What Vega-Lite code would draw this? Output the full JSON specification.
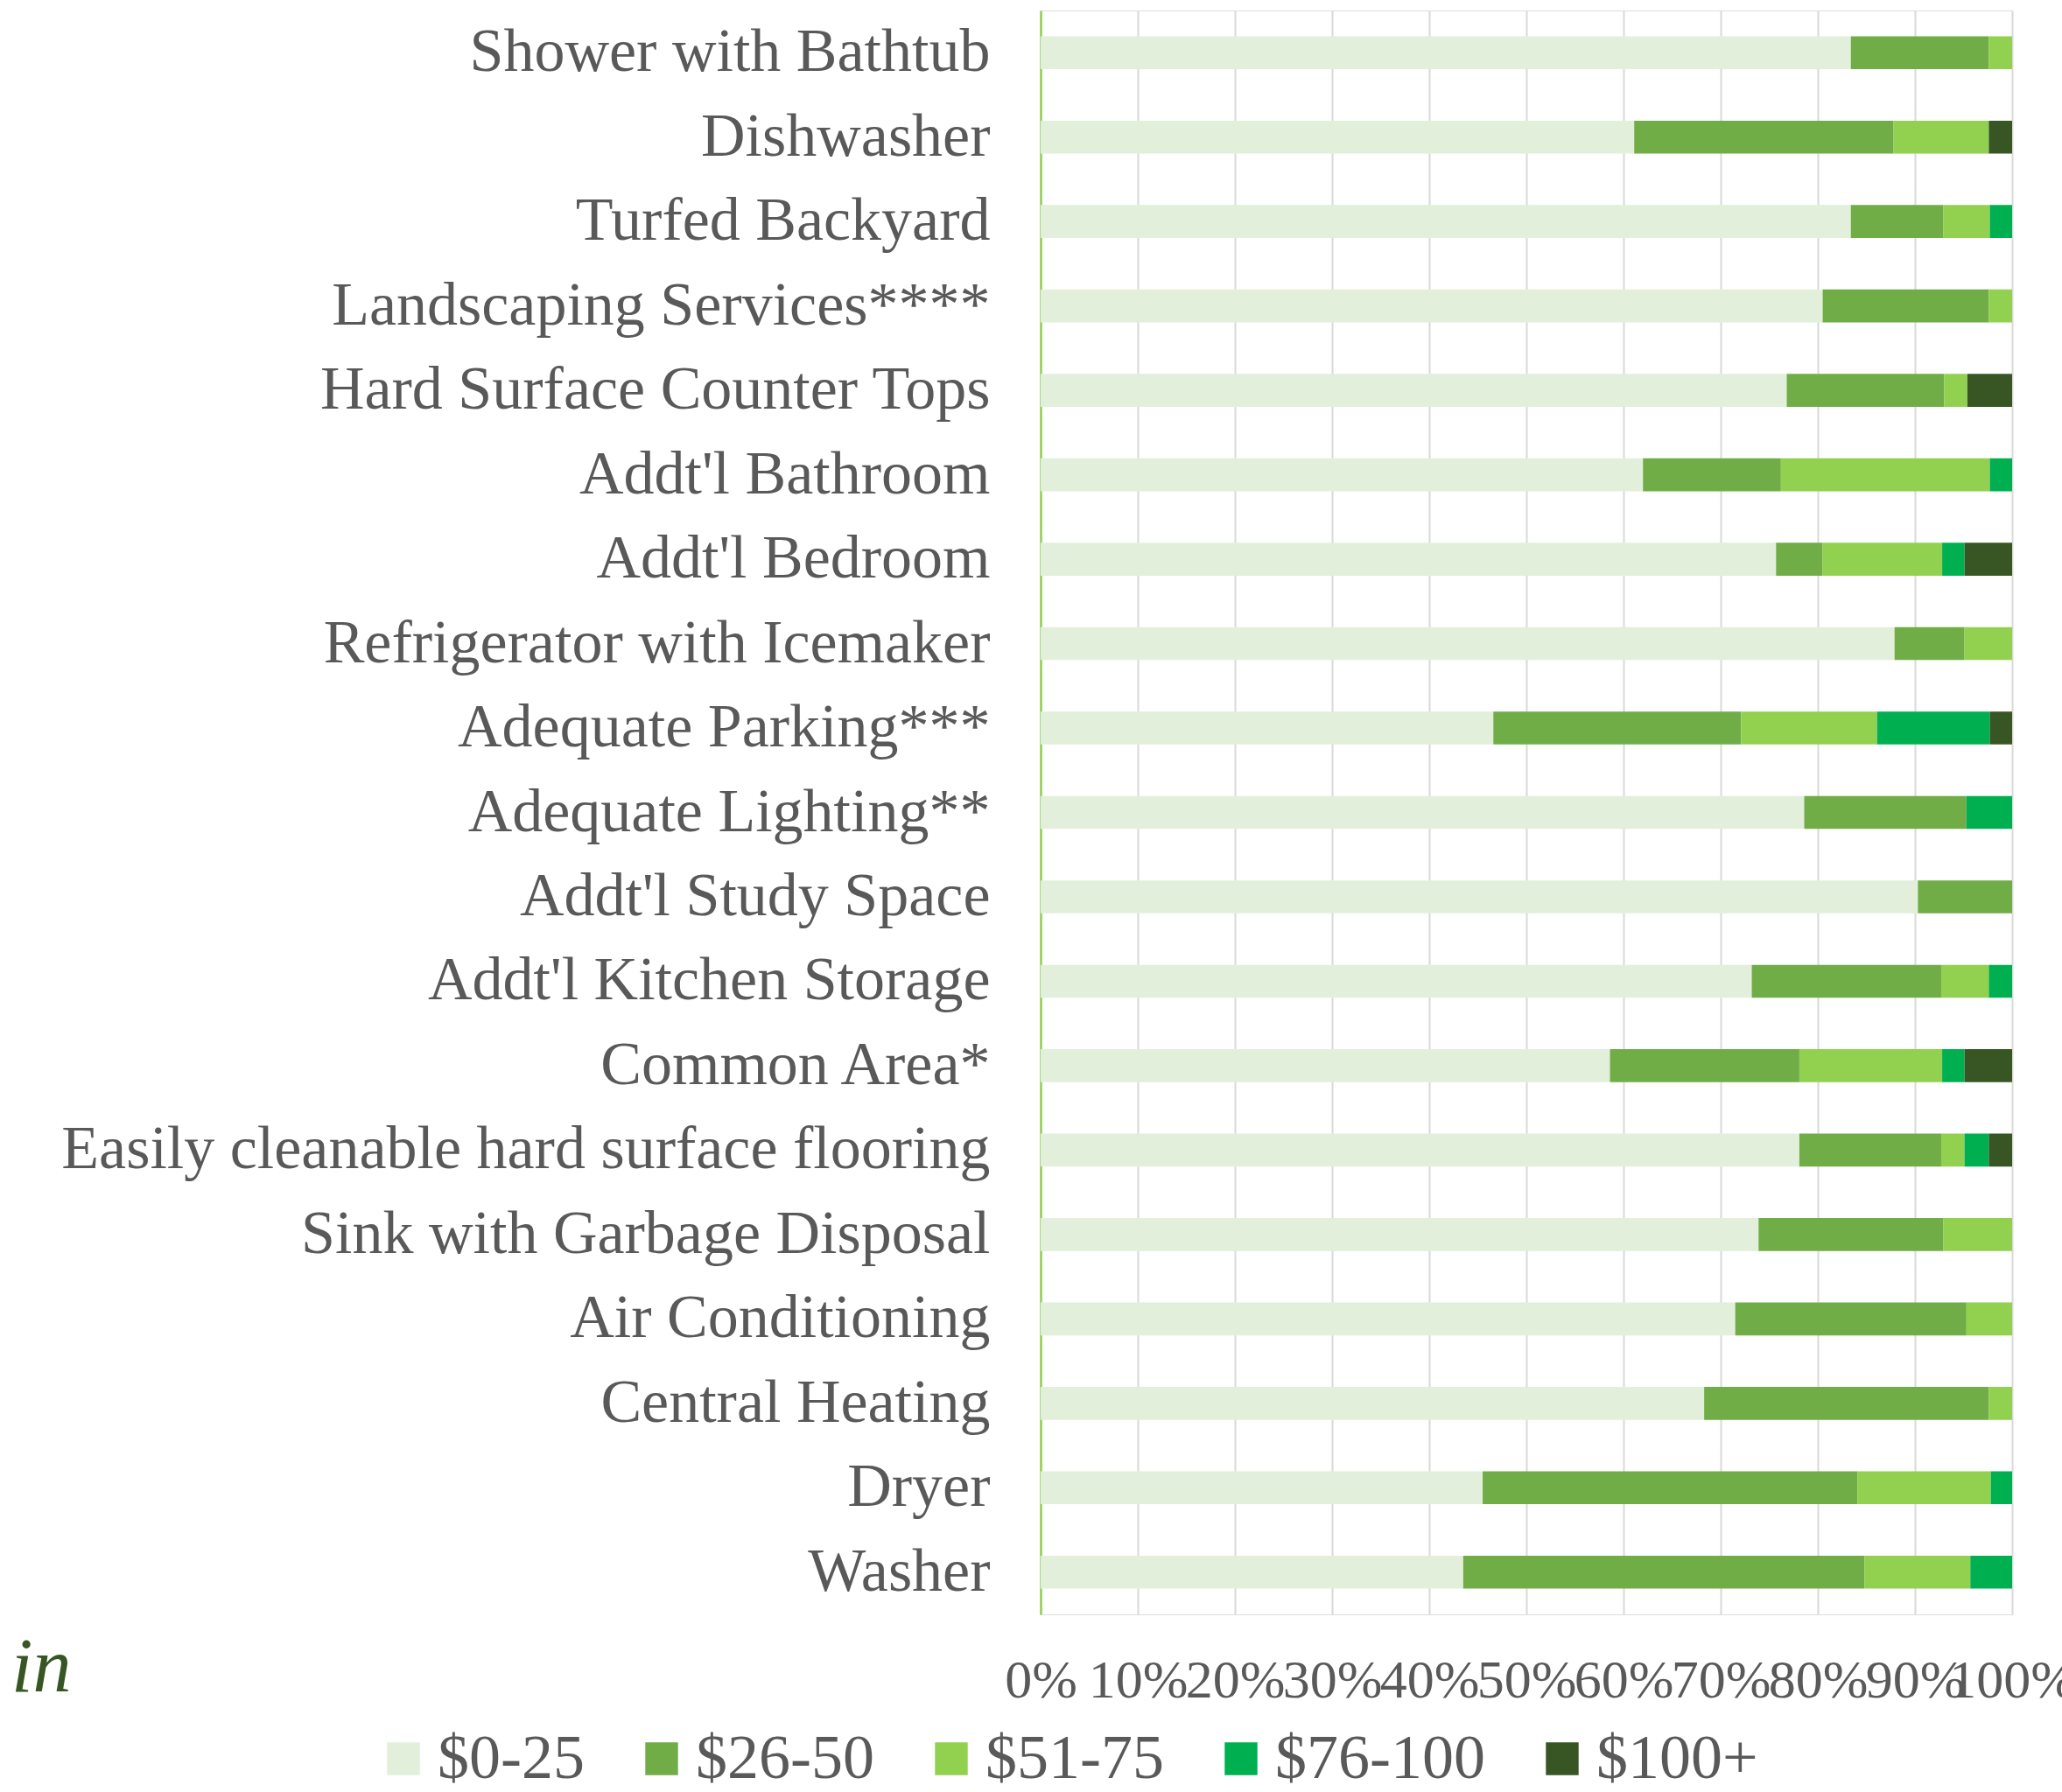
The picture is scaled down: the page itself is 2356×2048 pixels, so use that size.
{
  "$schema": "https://vega.github.io/schema/vega-lite/v6.json",
  "autosize": "none",
  "padding": {"left": 1189, "top": 12, "right": 57, "bottom": 203},
  "width": 1110,
  "height": 1833,
  "background": "white",
  "title": {
    "text": "in",
    "orient": "bottom",
    "anchor": "start",
    "frame": "group",
    "font": "Liberation Serif",
    "fontStyle": "italic",
    "fontWeight": "normal",
    "fontSize": 88,
    "color": "#375623",
    "dx": -1176,
    "offset": -183
  },
  "data": {
    "values": [
      {"item": "Shower with Bathtub", "range": "$0-25", "pct": 83.4},
      {"item": "Shower with Bathtub", "range": "$26-50", "pct": 14.2},
      {"item": "Shower with Bathtub", "range": "$51-75", "pct": 2.4},
      {"item": "Dishwasher", "range": "$0-25", "pct": 61.1},
      {"item": "Dishwasher", "range": "$26-50", "pct": 26.7},
      {"item": "Dishwasher", "range": "$51-75", "pct": 9.8},
      {"item": "Dishwasher", "range": "$100+", "pct": 2.4},
      {"item": "Turfed Backyard", "range": "$0-25", "pct": 83.4},
      {"item": "Turfed Backyard", "range": "$26-50", "pct": 9.5},
      {"item": "Turfed Backyard", "range": "$51-75", "pct": 4.8},
      {"item": "Turfed Backyard", "range": "$76-100", "pct": 2.3},
      {"item": "Landscaping Services****", "range": "$0-25", "pct": 80.5},
      {"item": "Landscaping Services****", "range": "$26-50", "pct": 17.1},
      {"item": "Landscaping Services****", "range": "$51-75", "pct": 2.4},
      {"item": "Hard Surface Counter Tops", "range": "$0-25", "pct": 76.8},
      {"item": "Hard Surface Counter Tops", "range": "$26-50", "pct": 16.2},
      {"item": "Hard Surface Counter Tops", "range": "$51-75", "pct": 2.4},
      {"item": "Hard Surface Counter Tops", "range": "$100+", "pct": 4.6},
      {"item": "Addt'l Bathroom", "range": "$0-25", "pct": 62.0},
      {"item": "Addt'l Bathroom", "range": "$26-50", "pct": 14.2},
      {"item": "Addt'l Bathroom", "range": "$51-75", "pct": 21.5},
      {"item": "Addt'l Bathroom", "range": "$76-100", "pct": 2.3},
      {"item": "Addt'l Bedroom", "range": "$0-25", "pct": 75.7},
      {"item": "Addt'l Bedroom", "range": "$26-50", "pct": 4.8},
      {"item": "Addt'l Bedroom", "range": "$51-75", "pct": 12.3},
      {"item": "Addt'l Bedroom", "range": "$76-100", "pct": 2.3},
      {"item": "Addt'l Bedroom", "range": "$100+", "pct": 4.9},
      {"item": "Refrigerator with Icemaker", "range": "$0-25", "pct": 87.9},
      {"item": "Refrigerator with Icemaker", "range": "$26-50", "pct": 7.2},
      {"item": "Refrigerator with Icemaker", "range": "$51-75", "pct": 4.9},
      {"item": "Adequate Parking***", "range": "$0-25", "pct": 46.6},
      {"item": "Adequate Parking***", "range": "$26-50", "pct": 25.5},
      {"item": "Adequate Parking***", "range": "$51-75", "pct": 14.0},
      {"item": "Adequate Parking***", "range": "$76-100", "pct": 11.6},
      {"item": "Adequate Parking***", "range": "$100+", "pct": 2.3},
      {"item": "Adequate Lighting**", "range": "$0-25", "pct": 78.6},
      {"item": "Adequate Lighting**", "range": "$26-50", "pct": 16.7},
      {"item": "Adequate Lighting**", "range": "$76-100", "pct": 4.7},
      {"item": "Addt'l Study Space", "range": "$0-25", "pct": 90.3},
      {"item": "Addt'l Study Space", "range": "$26-50", "pct": 9.7},
      {"item": "Addt'l Kitchen Storage", "range": "$0-25", "pct": 73.2},
      {"item": "Addt'l Kitchen Storage", "range": "$26-50", "pct": 19.5},
      {"item": "Addt'l Kitchen Storage", "range": "$51-75", "pct": 4.9},
      {"item": "Addt'l Kitchen Storage", "range": "$76-100", "pct": 2.4},
      {"item": "Common Area*", "range": "$0-25", "pct": 58.6},
      {"item": "Common Area*", "range": "$26-50", "pct": 19.5},
      {"item": "Common Area*", "range": "$51-75", "pct": 14.7},
      {"item": "Common Area*", "range": "$76-100", "pct": 2.3},
      {"item": "Common Area*", "range": "$100+", "pct": 4.9},
      {"item": "Easily cleanable hard surface flooring", "range": "$0-25", "pct": 78.1},
      {"item": "Easily cleanable hard surface flooring", "range": "$26-50", "pct": 14.6},
      {"item": "Easily cleanable hard surface flooring", "range": "$51-75", "pct": 2.4},
      {"item": "Easily cleanable hard surface flooring", "range": "$76-100", "pct": 2.5},
      {"item": "Easily cleanable hard surface flooring", "range": "$100+", "pct": 2.4},
      {"item": "Sink with Garbage Disposal", "range": "$0-25", "pct": 73.9},
      {"item": "Sink with Garbage Disposal", "range": "$26-50", "pct": 19.0},
      {"item": "Sink with Garbage Disposal", "range": "$51-75", "pct": 7.1},
      {"item": "Air Conditioning", "range": "$0-25", "pct": 71.5},
      {"item": "Air Conditioning", "range": "$26-50", "pct": 23.8},
      {"item": "Air Conditioning", "range": "$51-75", "pct": 4.7},
      {"item": "Central Heating", "range": "$0-25", "pct": 68.3},
      {"item": "Central Heating", "range": "$26-50", "pct": 29.3},
      {"item": "Central Heating", "range": "$51-75", "pct": 2.4},
      {"item": "Dryer", "range": "$0-25", "pct": 45.5},
      {"item": "Dryer", "range": "$26-50", "pct": 38.6},
      {"item": "Dryer", "range": "$51-75", "pct": 13.7},
      {"item": "Dryer", "range": "$76-100", "pct": 2.2},
      {"item": "Washer", "range": "$0-25", "pct": 43.5},
      {"item": "Washer", "range": "$26-50", "pct": 41.3},
      {"item": "Washer", "range": "$51-75", "pct": 10.9},
      {"item": "Washer", "range": "$76-100", "pct": 4.3}
    ]
  },
  "transform": [
    {"calculate": "indexof(['$0-25', '$26-50', '$51-75', '$76-100', '$100+'], datum.range)", "as": "rangeOrder"}
  ],
  "mark": {"type": "bar"},
  "encoding": {
    "y": {
      "field": "item",
      "type": "nominal",
      "sort": null,
      "scale": {"paddingInner": 0.61, "paddingOuter": 0.305},
      "axis": {
        "title": null,
        "labelFont": "Liberation Serif",
        "labelFontSize": 70,
        "labelColor": "#595959",
        "labelPadding": 58,
        "labelLimit": 1300,
        "ticks": false,
        "domain": true,
        "domainColor": "#92D050",
        "domainWidth": 2.5,
        "grid": false
      }
    },
    "x": {
      "field": "pct",
      "type": "quantitative",
      "stack": "normalize",
      "scale": {"domain": [0, 1], "nice": false},
      "axis": {
        "title": null,
        "format": ".0%",
        "values": [0, 0.1, 0.2, 0.3, 0.4, 0.5, 0.6, 0.7, 0.8, 0.9, 1],
        "labelFont": "Liberation Serif",
        "labelFontSize": 62,
        "labelColor": "#595959",
        "labelPadding": 45,
        "labelOverlap": false,
        "labelFlush": false,
        "ticks": false,
        "domain": false,
        "grid": true,
        "gridColor": "#D9D9D9",
        "gridWidth": 2
      }
    },
    "order": {"field": "rangeOrder", "type": "quantitative", "sort": "ascending"},
    "color": {
      "field": "range",
      "type": "nominal",
      "sort": ["$0-25", "$26-50", "$51-75", "$76-100", "$100+"],
      "scale": {
        "domain": ["$0-25", "$26-50", "$51-75", "$76-100", "$100+"],
        "range": ["#E2EFDA", "#70AD47", "#92D050", "#00B050", "#375623"]
      },
      "legend": {
        "title": null,
        "orient": "none",
        "direction": "horizontal",
        "legendX": -764,
        "legendY": 1962,
        "symbolType": "square",
        "symbolSize": 1400,
        "symbolStrokeWidth": 0,
        "labelFont": "Liberation Serif",
        "labelFontSize": 72,
        "labelColor": "#595959",
        "labelOffset": 3,
        "labelLimit": 400,
        "columnPadding": 52
      }
    }
  }
}
